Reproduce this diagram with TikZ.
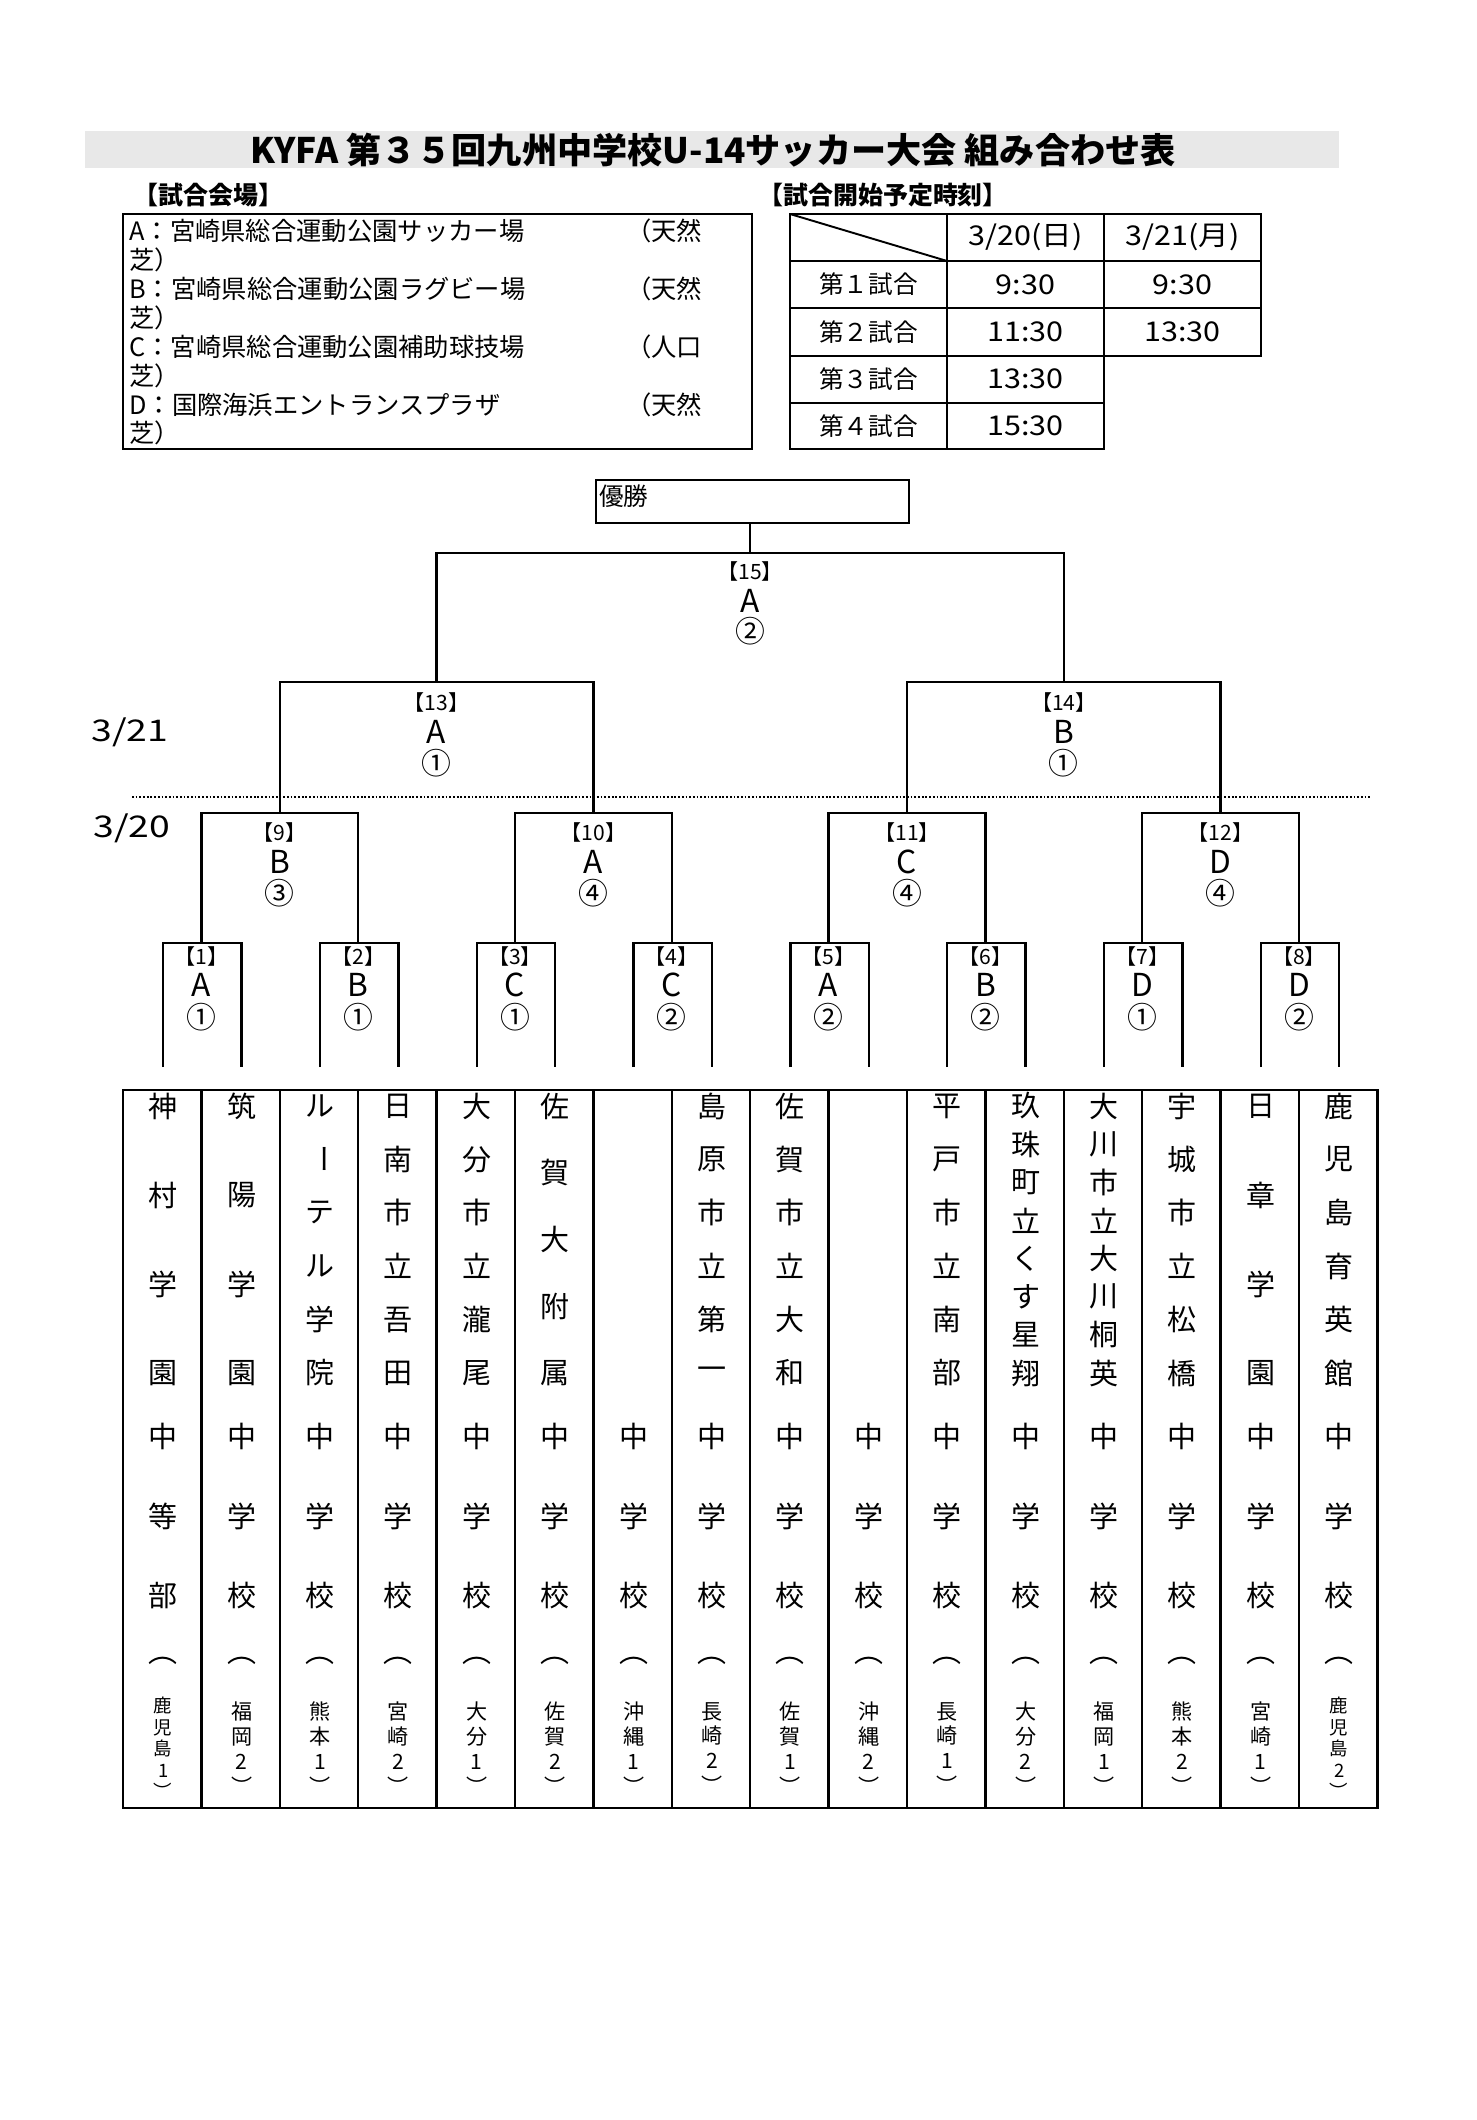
\documentclass[tikz,border=0pt]{standalone}
\usepackage{fontspec}
\setmainfont{Noto Sans CJK JP}
\usetikzlibrary{positioning}

\newcommand\fsz[1]{\fontsize{#1}{#1}\selectfont}
\newcommand\vcho{\rotatebox[origin=c]{-90}{ー}}

\tikzset{
  brline/.style={line width=1.4pt},
  boxline/.style={draw, line width=1.1pt},
  gameno/.style={font=\fsz{12}, inner sep=0pt},
  venuelet/.style={font=\fsz{18}, inner sep=0pt},
  seedno/.style={font=\fsz{17}, inner sep=0pt},
  schname/.style={font=\fsz{16.5}, inner sep=0pt},
  prefsm/.style={font=\fontsize{10.5}{12.2}\selectfont, align=center, inner sep=0pt},
  prefbg/.style={font=\fontsize{12}{14.2}\selectfont, align=center, inner sep=0pt},
  venuetxt/.style={font=\fsz{14.4}, inner sep=0pt, anchor=west},
  cellt/.style={font=\fsz{14}, inner sep=0pt},
  timet/.style={font=\fsz{15.5}, inner sep=0pt, xscale=1.12},
  heading/.style={font=\bfseries\fsz{14.2}, inner sep=0pt, anchor=west},
  datelbl/.style={font=\fsz{17}, inner sep=0pt, xscale=1.25},
}

\begin{document}
\begin{tikzpicture}[x=0.2mm, y=-0.2mm]
\useasboundingbox (0,0) rectangle (1477,2120);
\fill[gray!18] (85,131) rectangle (1339,168);
\node[font=\bfseries\fsz{20}, inner sep=0pt] (title) at (713,150) {KYFA 第３５回九州中学校U-14サッカー大会 組み合わせ表};

\node[heading] (hvenue) at (133,195) {【試合会場】};
\draw[boxline] (123,214) rectangle (752,449);
\foreach \k/\t/\s in {0/A：宮崎県総合運動公園サッカー場/（天然, 2/B：宮崎県総合運動公園ラグビー場/（天然, 4/C：宮崎県総合運動公園補助球技場/（人口, 6/D：国際海浜エントランスプラザ/（天然}{
  \node[venuetxt] (v\k) at (129,{231+28.9*\k}) {\t};
  \node[venuetxt] (w\k) at (626,{231+28.9*\k}) {\s};
  \node[venuetxt] (z\k) at (129,{231+28.9*(\k+1)}) {芝）};
}

\node[heading] (htime) at (758,195) {【試合開始予定時刻】};
\draw[boxline] (790,214) rectangle (1261,356);
\draw[boxline] (790,356) rectangle (1104,449);
\draw[boxline] (790,261) -- (1261,261) (790,308) -- (1261,308) (790,403) -- (1104,403);
\draw[boxline] (947,214) -- (947,449) (1104,214) -- (1104,356);
\draw[boxline] (790,214) -- (947,261);
\node[timet] (h20) at (1025.5,237.5) {3/20(日)};
\node[timet] (h21) at (1182.5,237.5) {3/21(月)};
\foreach \r/\lab in {1/第１試合,2/第２試合,3/第３試合,4/第４試合}
  \node[cellt] (g\r) at (868.5,{237.5+47.1*\r}) {\lab};
\node[timet] (t11) at (1025.5,284.6) {9:30};
\node[timet] (t12) at (1182.5,284.6) {9:30};
\node[timet] (t21) at (1025.5,331.7) {11:30};
\node[timet] (t22) at (1182.5,331.7) {13:30};
\node[timet] (t31) at (1025.5,378.8) {13:30};
\node[timet] (t41) at (1025.5,425.9) {15:30};

\node[boxline, anchor=north west, minimum width=62.6mm, minimum height=8.6mm, inner sep=0pt] (win) at (595,479) {};
\node[font=\fsz{14}, anchor=north west, inner sep=0pt] (wintxt) at (599,484) {優勝};

\node[datelbl] (d21) at (130,732) {3/21};
\node[datelbl] (d20) at (132,828) {3/20};
\draw[line width=1.5pt, dash pattern=on 1pt off 1.1pt] (132,797) -- (1370,797);

\foreach \i in {1,...,16}{
  \pgfmathsetmacro\x{84.8+78.4*\i}
  \coordinate (p\i) at (\x,1067);
}
\foreach \k/\f/\o in {1/A/①,2/B/①,3/C/①,4/C/②,5/A/②,6/B/②,7/D/①,8/D/②}{
  \pgfmathsetmacro\x{123+78.4*(2*\k-1)}
  \coordinate (m\k) at (\x,943);
  \node[gameno] (n\k) at (\x,956) {【\k】};
  \node[venuelet] (f\k) at (\x,985) {\f};
  \node[seedno] (o\k) at (\x,1017) {\o};
}
\foreach \k/\f/\o in {9/B/③,10/A/④,11/C/④,12/D/④}{
  \pgfmathsetmacro\x{123+78.4*(4*(\k-8)-2)}
  \coordinate (m\k) at (\x,813);
  \node[gameno] (n\k) at (\x,832) {【\k】};
  \node[venuelet] (f\k) at (\x,862) {\f};
  \node[seedno] (o\k) at (\x,893) {\o};
}
\foreach \k/\f/\o in {13/A/①,14/B/①}{
  \pgfmathsetmacro\x{123+78.4*(8*(\k-12)-4)}
  \coordinate (m\k) at (\x,682);
  \node[gameno] (n\k) at (\x,702) {【\k】};
  \node[venuelet] (f\k) at (\x,732) {\f};
  \node[seedno] (o\k) at (\x,763) {\o};
}
\coordinate (m15) at (750.2,553);
\node[gameno] (n15) at (750.2,571) {【15】};
\node[venuelet] (f15) at (750.2,601) {A};
\node[seedno] (o15) at (750.2,631) {②};

\foreach \k/\a/\b in {1/1/2,2/3/4,3/5/6,4/7/8,5/9/10,6/11/12,7/13/14,8/15/16}
  \draw[brline] (p\a) |- (m\k) -| (p\b);
\foreach \k/\a/\b in {9/1/2,10/3/4,11/5/6,12/7/8,13/9/10,14/11/12,15/13/14}
  \draw[brline] (m\a) |- (m\k) -| (m\b);
\draw[brline] (m15) -- (m15 |- win.south);

\draw[line width=1.3pt] (123,1090) rectangle (1377.4,1808);
\foreach \i in {1,...,15}
  \draw[line width=1.3pt] ({123+78.4*\i},1090) -- ({123+78.4*\i},1808);

\foreach \i/\nc/\chars/\endch/\ps/\pref in {
  1/4/{神,村,学,園}/{中,等,部}/prefsm/{鹿\\児\\島\\1\\︶},
  2/4/{筑,陽,学,園}/{中,学,校}/prefbg/{福\\岡\\2\\︶},
  3/6/{ル,\vcho,テ,ル,学,院}/{中,学,校}/prefbg/{熊\\本\\1\\︶},
  4/6/{日,南,市,立,吾,田}/{中,学,校}/prefbg/{宮\\崎\\2\\︶},
  5/6/{大,分,市,立,瀧,尾}/{中,学,校}/prefbg/{大\\分\\1\\︶},
  6/5/{佐,賀,大,附,属}/{中,学,校}/prefbg/{佐\\賀\\2\\︶},
  7/0/{}/{中,学,校}/prefbg/{沖\\縄\\1\\︶},
  8/6/{島,原,市,立,第,一}/{中,学,校}/prefbg/{長\\崎\\2\\︶},
  9/6/{佐,賀,市,立,大,和}/{中,学,校}/prefbg/{佐\\賀\\1\\︶},
  10/0/{}/{中,学,校}/prefbg/{沖\\縄\\2\\︶},
  11/6/{平,戸,市,立,南,部}/{中,学,校}/prefbg/{長\\崎\\1\\︶},
  12/8/{玖,珠,町,立,く,す,星,翔}/{中,学,校}/prefbg/{大\\分\\2\\︶},
  13/8/{大,川,市,立,大,川,桐,英}/{中,学,校}/prefbg/{福\\岡\\1\\︶},
  14/6/{宇,城,市,立,松,橋}/{中,学,校}/prefbg/{熊\\本\\2\\︶},
  15/4/{日,章,学,園}/{中,学,校}/prefbg/{宮\\崎\\1\\︶},
  16/6/{鹿,児,島,育,英,館}/{中,学,校}/prefsm/{鹿\\児\\島\\2\\︶}}{
  \pgfmathsetmacro\x{84.8+78.4*\i}
  \ifnum\nc>0
    \foreach \ch [count=\k] in \chars {
      \pgfmathsetmacro\y{1106+267*(\k-1)/(\nc-1)}
      \node[schname] (s\i-\k) at (\x,\y) {\ch};
    }
  \fi
  \foreach \ch [count=\k] in \endch
    \node[schname] (e\i-\k) at (\x,{1436+80*(\k-1)}) {\ch};
  \node[schname] (l\i) at (\x,1661) {︵};
  \node[\ps] (r\i) at (\x,1748) {\pref};
}
\end{tikzpicture}
\end{document}
